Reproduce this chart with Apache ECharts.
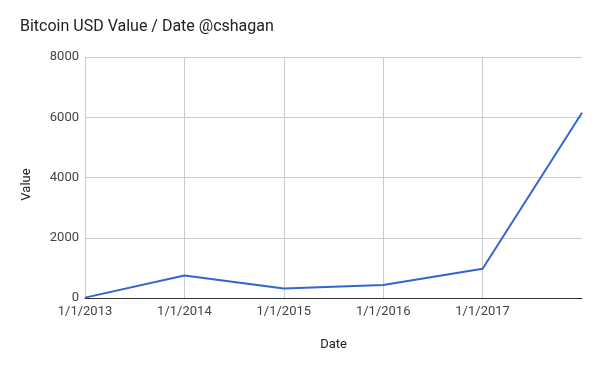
<!DOCTYPE html>
<html>
<head>
<meta charset="utf-8">
<script src="https://cdn.jsdelivr.net/npm/echarts@6/dist/echarts.min.js"></script>
<style>html,body{margin:0;padding:0;background:#fff}#c{width:600px;height:371px}</style>
</head>
<body>
<div id="c"></div>
<script>
var categories = ['1/1/2013', '1/1/2014', '1/1/2015', '1/1/2016', '1/1/2017', '1/1/2018'];
var values = [13, 750, 315, 430, 970, 6150];
var yTicks = [0, 2000, 4000, 6000, 8000];

var chart = echarts.init(document.getElementById('c'), null, {renderer: 'canvas'});
var lastIdx = categories.length - 1;
chart.setOption({
  animation: false,
  backgroundColor: '#fff',
  title: {
    text: 'Bitcoin USD Value / Date @cshagan',
    left: 15, top: 14,
    textStyle: {fontFamily: 'Roboto', fontSize: 16, fontWeight: 'normal', color: '#222'}
  },
  grid: {left: 85, right: 18, top: 57, bottom: 73, containLabel: false},
  xAxis: {
    type: 'category',
    data: categories,
    boundaryGap: false,
    name: 'Date',
    nameLocation: 'middle',
    nameGap: 40,
    nameTextStyle: {fontFamily: 'Roboto', fontSize: 13, color: '#222'},
    axisLine: {show: true, lineStyle: {color: '#333', width: 1}},
    axisTick: {show: false},
    axisLabel: {
      fontFamily: 'Roboto', fontSize: 13, color: '#444', margin: 7,
      interval: function (i) { return i !== lastIdx; }
    },
    splitLine: {
      show: true,
      interval: function (i) { return i !== lastIdx; },
      lineStyle: {color: '#ccc', width: 1}
    }
  },
  yAxis: {
    type: 'value',
    min: yTicks[0], max: yTicks[yTicks.length - 1], interval: 2000,
    name: 'Value',
    nameLocation: 'middle',
    nameGap: 52,
    nameTextStyle: {fontFamily: 'Roboto', fontSize: 13, color: '#222', padding: [0, 14, 0, 0]},
    axisLine: {show: false},
    axisTick: {show: false},
    axisLabel: {
      fontFamily: 'Roboto', fontSize: 13, color: '#444', margin: 6,
      formatter: function (v) { return String(v); }
    },
    splitLine: {show: true, lineStyle: {color: '#ccc', width: 1}}
  },
  series: [{
    type: 'line',
    data: values,
    showSymbol: false,
    symbol: 'none',
    lineStyle: {color: '#3366cc', width: 2},
    itemStyle: {color: '#3366cc'}
  }]
});
</script>
</body>
</html>
